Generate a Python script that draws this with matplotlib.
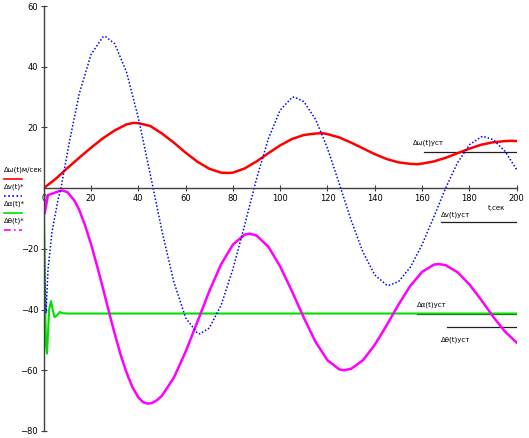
import matplotlib
matplotlib.use("Agg")
import matplotlib.pyplot as plt
from matplotlib.lines import Line2D

# values
t_w = [0, 5, 10, 15, 20, 25, 30, 35, 38, 40, 45, 50, 55, 60, 65, 70, 75, 78, 80, 85,
       90, 95, 100, 105, 110, 115, 118, 120, 125, 130, 135, 140, 145, 150, 155, 158,
       160, 165, 170, 175, 180, 185, 190, 195, 198, 200]
dw = [0, 3, 6.6, 10, 13.3, 16.4, 19, 21, 21.5, 21.4, 20.5, 18, 15, 11.7, 8.7, 6.4, 5.1, 5, 5.1, 6.5,
      8.8, 11.5, 14.1, 16.2, 17.5, 18, 18.1, 17.8, 16.7, 15, 13.1, 11.2, 9.6, 8.5, 8, 7.9,
      8.1, 8.8, 10, 11.5, 13, 14.3, 15.1, 15.5, 15.6, 15.5]

t_v = [0, 0.5, 1, 1.8, 3.5, 6, 7.3, 11, 15, 20, 25, 26, 30, 35, 40, 45, 50, 55, 60, 65, 66,
       70, 75, 80, 85, 90, 95, 100, 105, 106, 110, 115, 120, 125, 130, 135, 140, 145, 146,
       150, 155, 160, 165, 170, 175, 180, 185, 186, 190, 195, 200]
dv = [0, -30, -41, -27, -14.5, -4, 0, 15.8, 31, 44, 49.8, 50, 47.6, 38.3, 23.2, 4.8, -14.1, -30.8, -42.7, -47.8, -48,
      -46.1, -38.6, -26.7, -12.1, 3.1, 16.3, 25.7, 29.9, 30, 28.5, 22.6, 13.1, 1.4, -10.6, -21.1, -28.6, -31.9, -32,
      -30.8, -26.1, -18.6, -9.4, 0.1, 8.4, 14.3, 16.9, 17, 16.0, 12.2, 6.1]

t_a = [0, 0.3, 0.7, 1.0, 1.4, 1.8, 2.3, 3.1, 3.8, 4.6, 5.5, 6.8, 8, 10, 200]
da = [0, -20, -42, -52, -54.5, -48, -40, -37.2, -40, -42.5, -42, -40.8, -41.2, -41.3, -41.3]

t_th = [0, 0.4, 1.8, 4, 6.8, 8, 10, 13, 15, 17.5, 20, 22.5, 25, 27.5, 30, 32.5, 35, 37.5, 40, 42, 44,
        46, 48, 50, 55, 60, 65, 70, 75, 80, 85, 87, 90, 95, 100, 105, 110, 115, 120, 125, 127,
        130, 135, 140, 145, 150, 155, 160, 165, 167, 170, 175, 180, 185, 190, 195, 200]
dth = [0, -8.4, -2.3, -1.7, -0.9, -0.8, -1.3, -4.1, -7.1, -12.3, -18.4, -25.4, -32.8, -40.5, -47.9, -54.8, -60.7, -65.5, -68.9, -70.5, -71,
       -70.7, -69.8, -68.4, -62.5, -53.9, -44.0, -34.0, -25.1, -18.6, -15.3, -15, -15.6, -19.3, -25.8, -34.0, -42.7, -50.7, -56.7, -59.7, -60,
       -59.5, -56.7, -51.6, -45.2, -38.4, -32.2, -27.6, -25.2, -25, -25.4, -27.7, -31.7, -36.8, -42.3, -47.2, -50.9]

# steady-state levels: value, start t, label, label position
ust_val = [12, -11.2, -41.3, -45.9]
ust_t0 = [161, 168, 158, 170.5]
ust_lbl = ["Δω(t)уст", "Δv(t)уст", "Δα(t)уст", "Δθ(t)уст"]
ust_lx = [156, 168, 158, 168]
ust_ly = [14.9, -8.9, -38.3, -49.8]

xticks = list(range(0, 201, 20))
yticks = [-80, -60, -40, -20, 20, 40, 60]

fig = plt.figure(figsize=(5.29, 4.38), dpi=100)
ax = fig.add_axes([43.7 / 529, 1 - 431 / 438, 473 / 529, 425 / 438])
ax.set_xlim(0, 200)
ax.set_ylim(-80, 60)

for v, t0 in zip(ust_val, ust_t0):
    ax.plot([t0, 200], [v, v], color="#202020", lw=0.9)
for s, x, y in zip(ust_lbl, ust_lx, ust_ly):
    ax.text(x, y, s, fontsize=5, ha="left", va="center")

ax.plot(t_a, da, color="#00e000", lw=1.5)
ax.plot(t_th, dth, color="#ff00ff", lw=1.8)
ax.plot(t_w, dw, color="#ff0000", lw=1.8)
ax.plot(t_v, dv, color="#0000ff", lw=1.1, ls=(0, (1, 1.3)))

ax.text(188, -6.6, "t,сек", fontsize=5, ha="left", va="center")

for side in ["top", "right"]:
    ax.spines[side].set_visible(False)
ax.spines["bottom"].set_position(("data", 0))
ax.spines["left"].set_position(("data", 0))
for side in ["bottom", "left"]:
    ax.spines[side].set_color("#404040")
    ax.spines[side].set_linewidth(1)
ax.set_xticks(xticks)
ax.set_yticks(yticks)
ax.tick_params(direction="inout", length=5, width=0.8, color="#404040",
               labelsize=6, pad=1.5)
ax.patch.set_visible(False)

# legend at the left
leg_txt = ["Δω(t)м/сек", "Δv(t)*", "Δα(t)*", "Δθ(t)*"]
leg_col = ["#ff0000", "#0000ff", "#00e000", "#ff00ff"]
leg_ls = ["-", (0, (1, 1.5)), "-", (0, (4, 2, 1, 2))]
leg_ty = [170, 187, 204, 221]
for s, c, ls, y in zip(leg_txt, leg_col, leg_ls, leg_ty):
    fig.text(4 / 529, 1 - y / 438, s, fontsize=5, ha="left", va="center")
    fig.add_artist(Line2D([4 / 529, 22 / 529], [1 - (y + 8.5) / 438] * 2,
                          color=c, lw=1.2, ls=ls))

fig.savefig("out.png", dpi=100)
